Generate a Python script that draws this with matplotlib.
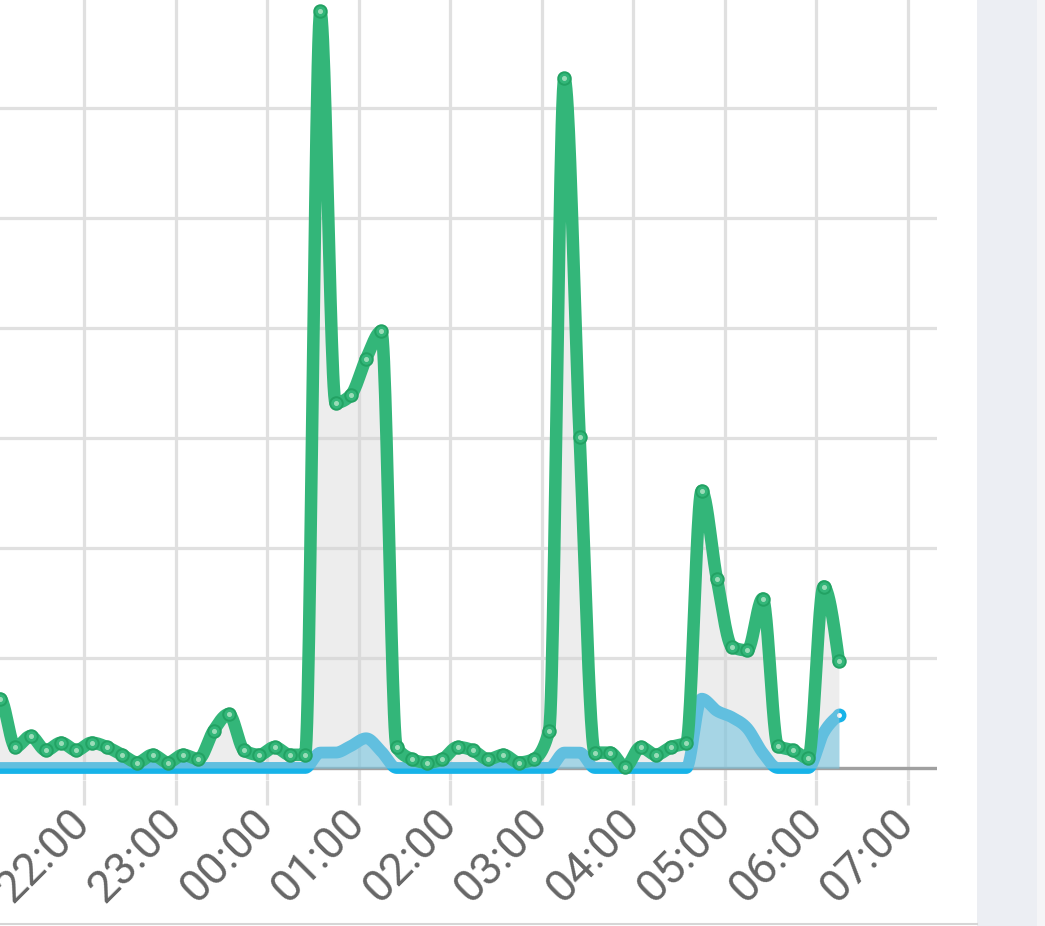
import numpy as np
import matplotlib
matplotlib.use("Agg")
import matplotlib.pyplot as plt
from matplotlib.patches import Rectangle
from matplotlib.lines import Line2D

# -------------------------------
# Data: 10-minute samples, 20:55 -> 06:15
# -------------------------------
start_time = "20:55"
step_min = 10

green_vals = [
    6.2, 6.3, 1.9, 2.9, 1.6, 2.3, 1.6, 2.3, 1.9, 1.2,
    0.5, 1.2, 0.5, 1.2, 0.8, 3.4, 4.9, 1.6, 1.2, 1.9,
    1.2, 1.2, 68.8, 33.2, 33.9, 37.2, 39.7, 1.9, 0.8, 0.5,
    0.8, 1.9, 1.6, 0.8, 1.2, 0.5, 0.8, 3.4, 62.7, 30.1,
    1.4, 1.4, 0.1, 1.9, 1.2, 1.9, 2.3, 25.2, 17.2, 11.0,
    10.7, 15.4, 2.0, 1.6, 0.9, 16.5, 9.7,
]
blue_vals = [
    0, 0, 0, 0, 0, 0, 0, 0, 0, 0,
    0, 0, 0, 0, 0, 0, 0, 0, 0, 0,
    0, 0, 1.4, 1.4, 2.0, 2.7, 1.5, 0, 0, 0,
    0, 0, 0, 0, 0, 0, 0, 0, 1.4, 1.4,
    0, 0, 0, 0, 0, 0, 0, 6.3, 5.2, 4.6,
    3.6, 1.4, 0, 0, 0, 3.2, 4.8,
]
tick_labels = ["21:00", "22:00", "23:00", "00:00", "01:00", "02:00",
               "03:00", "04:00", "05:00", "06:00", "07:00"]
grid_levels = [10, 20, 30, 40, 50, 60]

GREEN = "#33b679"
GREEN_EDGE = "#22a263"
GREEN_DOT = "#9adcb8"
BLUE = "#17b3e8"


def monotone_curve(x, y, n=24):
    # d3-style monotoneX smoothing for drawing the line
    x = np.asarray(x, float)
    y = np.asarray(y, float)
    h = np.diff(x)
    s = np.diff(y) / h
    t = np.zeros_like(y)
    for i in range(1, len(y) - 1):
        p = (s[i - 1] * h[i] + s[i] * h[i - 1]) / (h[i - 1] + h[i])
        t[i] = (np.sign(s[i - 1]) + np.sign(s[i])) * min(abs(s[i - 1]), abs(s[i]), 0.5 * abs(p))
    t[0] = (3 * s[0] - t[1]) / 2
    t[-1] = (3 * s[-1] - t[-2]) / 2
    xs, ys = [], []
    u = np.linspace(0, 1, n, endpoint=False)
    for i in range(len(y) - 1):
        h00 = 2 * u**3 - 3 * u**2 + 1
        h10 = u**3 - 2 * u**2 + u
        h01 = -2 * u**3 + 3 * u**2
        h11 = u**3 - u**2
        xs.append(x[i] + u * h[i])
        ys.append(h00 * y[i] + h10 * h[i] * t[i] + h01 * y[i + 1] + h11 * h[i] * t[i + 1])
    xs.append([x[-1]])
    ys.append([y[-1]])
    return np.concatenate(xs), np.concatenate(ys)


hh, mm = map(int, start_time.split(":"))
t0 = hh + mm / 60
hours = t0 + np.arange(len(green_vals)) * step_min / 60
tick_pos = np.arange(21, 21 + len(tick_labels))

gx, gy = monotone_curve(hours, green_vals)
bx, by = monotone_curve(hours, blue_vals)

# -------------------------------
# Figure
# -------------------------------
W, H = 1045, 926
fig = plt.figure(figsize=(W / 100, H / 100), dpi=100)
fig.patch.set_facecolor("white")

ax_l, ax_r, ax_t, ax_b = -20, 937, 0, 780
ax = fig.add_axes([ax_l / W, 1 - ax_b / H, (ax_r - ax_l) / W, (ax_b - ax_t) / H])

px_per_h = 91.5
ax.set_xlim(22 + (ax_l - 84) / px_per_h, 22 + (ax_r - 84) / px_per_h)
ax.set_ylim((768 - ax_b) / 11, (768 - ax_t) / 11)

for s in ax.spines.values():
    s.set_visible(False)

ax.set_xticks(tick_pos)
ax.set_xticklabels(tick_labels)
ax.set_yticks(grid_levels)
ax.set_yticklabels([])
ax.tick_params(axis="y", length=0)
ax.tick_params(axis="x", length=18, width=2.3, color="#e0e0e0", pad=8,
               labelsize=32.5, labelcolor="#666666")
for lab in ax.get_xticklabels():
    lab.set_rotation(45)
    lab.set_ha("right")
    lab.set_va("center")
    lab.set_rotation_mode("anchor")
    lab.set_fontfamily("Roboto")

ax.set_axisbelow(True)
ax.grid(True, color="#e0e0e0", linewidth=2.3)

# baseline
ax.axhline(0, color="#a0a0a0", linewidth=2.4, zorder=1)

# blue series
ax.fill_between(bx, by, 0, color=BLUE, alpha=0.5, linewidth=0, zorder=2)
ax.plot(bx, by, color=BLUE, linewidth=8.5, solid_capstyle="round",
        solid_joinstyle="round", zorder=3)
ax.plot(hours[-1], blue_vals[-1], "o", ms=9, color=BLUE, zorder=3.1)
ax.plot(hours[-1], blue_vals[-1], "o", ms=2.5, color="white", zorder=3.2)

# green series
ax.fill_between(gx, gy, 0, color="#d2d2d2", alpha=0.4, linewidth=0, zorder=4)
ax.plot(gx, gy, color=GREEN, linewidth=9, solid_capstyle="round",
        solid_joinstyle="round", zorder=5)
ax.plot(hours, green_vals, "o", ms=9, mfc=GREEN, mec=GREEN_EDGE, mew=1.4,
        linestyle="none", zorder=6)
ax.plot(hours, green_vals, "o", ms=2.6, color=GREEN_DOT, linestyle="none", zorder=7)

# side panel and bottom border
fig.add_artist(Rectangle((977 / W, 0), (1037 - 977) / W, 1, transform=fig.transFigure,
                         facecolor="#eceef3", edgecolor="none", zorder=-1))
fig.add_artist(Rectangle((1037 / W, 0), (W - 1037) / W, 1, transform=fig.transFigure,
                         facecolor="#f5f5f7", edgecolor="none", zorder=-1))
fig.add_artist(Line2D([0, 977 / W], [1 - 924 / H] * 2, transform=fig.transFigure,
                      color="#d6d6d6", linewidth=1.5))

fig.savefig("out.png", dpi=100)
